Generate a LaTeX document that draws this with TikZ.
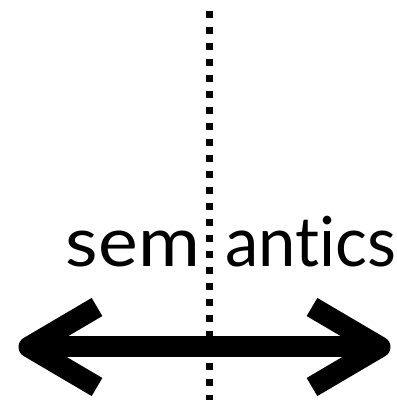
\documentclass[tikz,border=0pt]{standalone}
\usepackage{fontspec}
\usepackage{graphicx}
\setmainfont{Lato}[Ligatures=NoCommon]
\begin{document}
\begin{tikzpicture}[x=1pt,y=1pt,
  word/.style={inner sep=0pt,outer sep=0pt,font=\fontsize{69}{83}\selectfont},
  thick arrow/.style={line width=21pt,line join=round,line cap=butt},
  divider/.style={line width=6.5pt,dash pattern=on 7pt off 9pt}]
\useasboundingbox (0,0) rectangle (397,400);
% dotted divider
\coordinate (dtop) at (209.5,389);
\coordinate (dbot) at (209.5,0);
\draw[divider] (dtop) -- (dbot);
% words
\node[word,anchor=base east] (sem) at (200,133) {\resizebox{134pt}{\height}{sem}};
\node[word,anchor=base west] (antics) at (225,133) {\resizebox{171pt}{\height}{antics}};
% double arrow
\coordinate (ltip) at (29,53);
\coordinate (rtip) at (380,53);
\coordinate (lup) at (97,93);
\coordinate (ldn) at (97,13);
\coordinate (rup) at (312,93);
\coordinate (rdn) at (312,13);
\draw[thick arrow] (ltip) -- (rtip);
\draw[thick arrow] (lup) -- (ltip) -- (ldn);
\draw[thick arrow] (rup) -- (rtip) -- (rdn);
\end{tikzpicture}
\end{document}
